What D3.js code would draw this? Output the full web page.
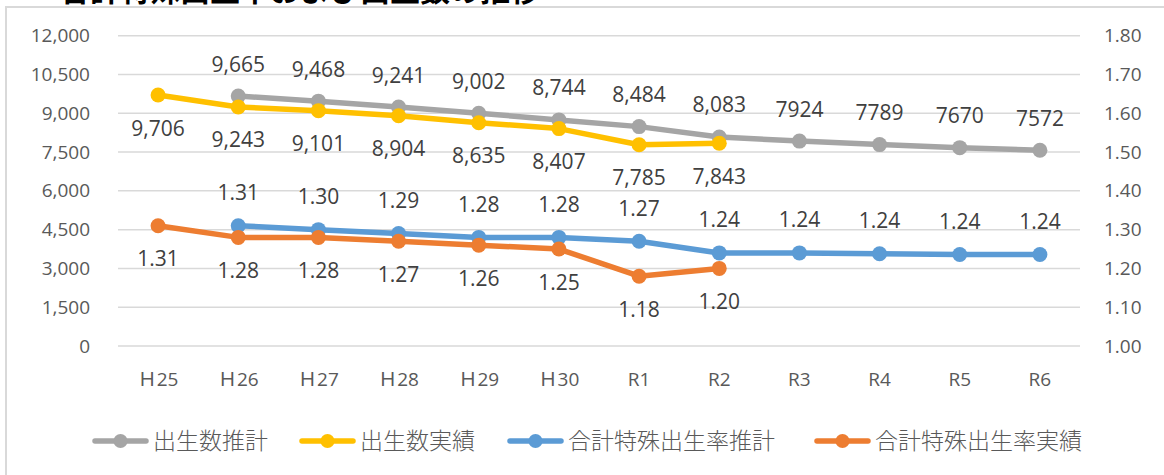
<!DOCTYPE html>
<html><head><meta charset="utf-8">
<script src="https://cdn.jsdelivr.net/npm/d3@7/dist/d3.min.js"></script>
<style>
html,body{margin:0;padding:0;background:#fff;}
svg{display:block;}
</style></head>
<body>
<svg id="c" width="1164" height="475"></svg>
<script>
const titleText = "合計特殊出生率および出生数の推移";
const categories = ["Ｈ25","Ｈ26","Ｈ27","Ｈ28","Ｈ29","Ｈ30","R1","R2","R3","R4","R5","R6"];
const birthsEstimate = [null,9665,9468,9241,9002,8744,8484,8083,7924,7789,7670,7572];
const birthsActual = [9706,9243,9101,8904,8635,8407,7785,7843,null,null,null,null];
const tfrEstimate = [null,1.31,1.30,1.29,1.28,1.28,1.27,1.24,1.24,1.238,1.236,1.236];
const tfrActual = [1.31,1.28,1.28,1.27,1.26,1.25,1.18,1.20,null,null,null,null];
const birthsLabels = ["9,665","9,468","9,241","9,002","8,744","8,484","8,083","7924","7789","7670","7572"];
const leftTicks = [0,1500,3000,4500,6000,7500,9000,10500,12000];
const rightTicks = [1.0,1.1,1.2,1.3,1.4,1.5,1.6,1.7,1.8];
const seriesNames = ["出生数推計","出生数実績","合計特殊出生率推計","合計特殊出生率実績"];
const seriesColors = ["#A5A5A5","#FFC000","#5B9BD5","#ED7D31"];

const svg = d3.select("#c");
const font = "'Open Sans','Noto Sans CJK JP',sans-serif";

// title (cut off at top, as in the reference)
svg.append("text").attr("x",60).attr("y",1)
  .attr("font-family","'Noto Sans CJK JP',sans-serif").attr("font-size",30).attr("font-weight",700)
  .attr("fill","#000").text(titleText);

// border
svg.append("rect").attr("x",6).attr("y",7).attr("width",1300).attr("height",600)
  .attr("fill","#fff").attr("stroke","#d9d9d9").attr("stroke-width",2);

const x = d3.scaleBand().domain(categories).range([118,1080]);
const cx = c => x(c) + x.bandwidth()/2;
const yL = d3.scaleLinear().domain([0,12000]).range([346,35.7]);
const yR = d3.scaleLinear().domain([1.0,1.8]).range([346,35.7]);

// gridlines
svg.append("g").selectAll("line").data(leftTicks).join("line")
  .attr("x1",118).attr("x2",1080)
  .attr("y1",d=>yL(d)).attr("y2",d=>yL(d))
  .attr("stroke","#d9d9d9").attr("stroke-width",1.5);

// left axis
const axL = d3.axisLeft(yL).tickValues(leftTicks).tickFormat(d3.format(",")).tickSize(0).tickPadding(0);
const gL = svg.append("g").attr("transform","translate(90,0)").call(axL);
gL.select(".domain").remove();
gL.selectAll("text").attr("font-family",font).attr("font-size",19).attr("fill","#595959");

// right axis
const axR = d3.axisRight(yR).tickValues(rightTicks).tickFormat(d3.format(".2f")).tickSize(0).tickPadding(0);
const gR = svg.append("g").attr("transform","translate(1104,0)").call(axR);
gR.select(".domain").remove();
gR.selectAll("text").attr("font-family",font).attr("font-size",19).attr("fill","#595959");

// x axis
const axX = d3.axisBottom(x).tickSize(0).tickPadding(0);
const gX = svg.append("g").attr("transform","translate(0,372)").call(axX);
gX.select(".domain").remove();
gX.selectAll("text").attr("font-family",font).attr("font-size",19).attr("fill","#595959").attr("dy","0.71em");

const series = [
  {vals: birthsEstimate, y: yL, color: seriesColors[0], labels: birthsLabels, dy: -24.5, fmt: null},
  {vals: birthsActual, y: yL, color: seriesColors[1], dy: 40.5, fmt: d3.format(",")},
  {vals: tfrEstimate, y: yR, color: seriesColors[2], dy: -25.5, fmt: d3.format(".2f")},
  {vals: tfrActual, y: yR, color: seriesColors[3], dy: 40.5, fmt: d3.format(".2f")}
];

const gLines = svg.append("g");
const gLabels = svg.append("g");
series.forEach(s => {
  const pts = categories.map((c,i)=>({c, v:s.vals[i]}));
  const line = d3.line().defined(d=>d.v!=null).x(d=>cx(d.c)).y(d=>s.y(d.v));
  const g = gLines.append("g");
  g.append("path").attr("d",line(pts)).attr("fill","none").attr("stroke",s.color)
    .attr("stroke-width",5.5).attr("stroke-linejoin","round").attr("stroke-linecap","round");
  const valid = pts.filter(d=>d.v!=null);
  g.selectAll("circle").data(valid).join("circle")
    .attr("cx",d=>cx(d.c)).attr("cy",d=>s.y(d.v)).attr("r",7.5).attr("fill",s.color);
  gLabels.append("g").selectAll("text").data(valid).join("text")
    .attr("x",d=>cx(d.c)).attr("y",d=>s.y(d.v)+s.dy)
    .attr("text-anchor","middle").attr("font-family",font).attr("font-size",21).attr("fill","#404040")
    .text((d,i)=> s.labels ? s.labels[i] : s.fmt(d.v));
});

// legend
const legX = [93,300,508,815];
const lg = svg.append("g");
seriesNames.forEach((n,i)=>{
  const g = lg.append("g").attr("transform",`translate(${legX[i]},441)`);
  g.append("line").attr("x1",2).attr("x2",53).attr("y1",0).attr("y2",0)
    .attr("stroke",seriesColors[i]).attr("stroke-width",5.5).attr("stroke-linecap","round");
  g.append("circle").attr("cx",27.5).attr("cy",0).attr("r",7).attr("fill",seriesColors[i]);
  g.append("text").attr("x",60).attr("y",0).attr("dy","0.36em")
    .attr("font-family","'Noto Sans CJK JP',sans-serif").attr("font-weight",300).attr("font-size",23)
    .attr("fill","#595959").text(n);
});
</script>
</body></html>
